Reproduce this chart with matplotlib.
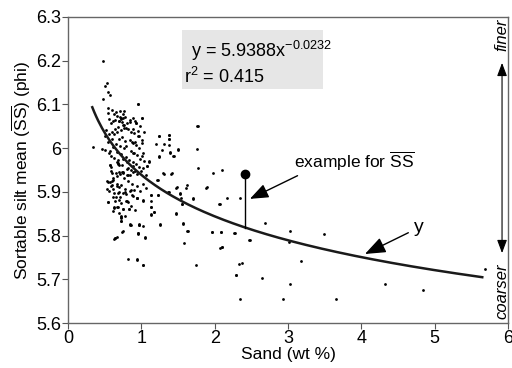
import matplotlib
matplotlib.use("Agg")
import matplotlib.pyplot as plt
import numpy as np
from matplotlib.patches import Rectangle

plt.rcParams["font.family"] = ["Liberation Sans", "DejaVu Sans"]
plt.rcParams["mathtext.fontset"] = "custom"
plt.rcParams["mathtext.rm"] = "Liberation Sans"
plt.rcParams["mathtext.it"] = "Liberation Sans:italic"

# sand (wt %) vs sortable silt mean (phi)
sand = [0.48, 0.505, 0.536, 0.55, 0.573, 0.482, 0.959, 0.55, 0.596, 0.55,
        0.345, 0.46, 0.50, 1.005, 0.93, 0.846, 0.72, 0.75, 0.78, 0.70,
        1.764, 1.237, 1.378, 1.378, 1.31, 1.505, 1.39, 1.245, 1.445, 1.755,
        1.77, 1.31, 1.41, 1.22, 1.98, 2.096, 1.88, 1.61, 1.473, 1.52,
        1.37, 1.71, 1.55, 2.073, 2.164, 2.346, 1.473, 1.128, 1.22, 1.13,
        1.128, 1.178, 1.255, 1.573, 1.628, 1.96, 2.087, 2.269, 2.473, 1.582,
        2.096, 2.073, 2.337, 1.741, 2.287, 1.018, 0.946, 0.823, 0.846, 0.968,
        1.018, 1.05, 0.955, 0.741, 0.641, 0.627, 0.723, 0.723, 0.632, 0.686,
        0.755, 0.832, 0.55, 0.61, 0.655, 0.71, 0.777, 0.868, 0.946, 1.018,
        0.537, 0.58, 0.573, 0.595, 0.673, 0.745, 0.80, 0.882, 0.973, 1.018,
        1.073, 1.11, 0.94, 1.064, 0.573, 0.582, 0.664, 0.686, 0.755, 0.80,
        0.56, 0.583, 0.617, 0.664, 0.702, 0.728, 0.746, 0.789, 0.807, 0.681,
        0.643, 0.602, 0.559, 0.522, 0.497, 0.627, 0.671, 0.716, 0.768, 0.813,
        0.857, 0.904, 0.948, 0.694, 0.741, 0.773, 0.838, 0.871, 0.925, 0.596,
        0.546, 0.652, 0.703, 0.757, 0.796, 0.852, 0.893, 0.943, 0.611, 0.574,
        0.661, 0.727, 0.784, 0.826, 0.884, 0.921, 0.978, 1.012, 0.628, 0.674,
        0.739, 0.806, 0.853, 0.917, 0.588, 0.647, 0.708, 0.762, 0.817, 0.875,
        0.936, 0.607, 0.668, 0.725, 0.772, 0.843, 0.897, 0.619, 0.684, 0.563,
        0.642, 0.716, 0.804, 0.862, 0.615, 0.693, 0.782, 0.915, 0.984, 1.024,
        1.058, 0.992, 0.963, 1.004, 0.978, 0.914, 0.887, 0.846, 0.758, 0.736,
        0.688, 0.646, 0.626, 0.744, 0.766, 0.703, 0.659,
        2.687, 3.027, 3.495, 2.482, 3.018, 3.178, 2.369, 2.65, 3.027, 4.323,
        4.845, 5.687, 2.346, 2.936, 3.65,
        0.937, 1.018, 1.13, 1.13, 1.13, 1.13, 1.177, 1.223, 1.36, 1.527,
        1.541, 1.55, 1.70, 1.473, 2.064, 0.845, 0.973, 1.255, 1.564, 1.632,
        1.96, 2.083, 2.277, 0.96, 1.05, 2.105, 0.937, 1.018, 2.291,
        0.96, 1.009, 0.927, 0.96, 1.036, 0.891, 0.973, 1.241, 1.382, 1.382,
        0.882, 0.914, 1.005, 1.196, 1.382, 1.777, 1.286, 1.505, 1.391, 1.436,
        1.245, 0.882, 1.027, 1.036, 1.109, 1.073, 0.882, 1.3, 1.414, 1.21,
        1.482, 1.618, 1.891,
        0.564, 0.582, 0.573, 0.677, 0.70, 0.596, 0.70, 0.73, 0.755, 0.814,
        0.845, 0.823, 0.527, 0.55, 0.618, 0.596, 0.673, 0.70, 0.632, 0.70,
        0.755, 0.791, 0.855, 0.891, 0.945, 0.55, 0.70, 0.786, 0.823, 0.627,
        0.664, 0.755, 0.836, 0.723, 0.723, 0.723, 0.855, 0.973, 0.745, 0.96,
        0.64, 0.664]
ss = [6.200, 6.141, 6.148, 6.129, 6.121, 6.112, 6.102, 6.091, 6.087, 6.080,
      6.003, 5.998, 5.996, 6.068, 6.058, 6.060, 6.070, 6.068, 6.072, 6.062,
      6.051, 6.028, 6.030, 6.021, 6.010, 5.997, 5.990, 5.981, 5.982, 5.999,
      5.955, 5.940, 5.941, 5.927, 5.944, 5.950, 5.910, 5.910, 5.910, 5.896,
      5.899, 5.883, 5.873, 5.872, 5.885, 5.885, 5.850, 5.893, 5.893, 5.865,
      5.848, 5.854, 5.825, 5.827, 5.810, 5.808, 5.808, 5.805, 5.790, 5.782,
      5.773, 5.771, 5.735, 5.732, 5.709, 5.732, 5.745, 5.747, 5.825, 5.825,
      5.822, 5.795, 5.804, 5.808, 5.794, 5.792, 5.833, 5.842, 5.863, 5.865,
      5.861, 5.861, 5.876, 5.888, 5.888, 5.888, 5.899, 5.893, 5.885, 5.882,
      5.907, 5.913, 5.922, 5.924, 5.937, 5.944, 5.938, 5.945, 5.957, 5.955,
      5.960, 5.970, 5.940, 5.938, 5.962, 5.948, 5.968, 5.972, 5.975, 5.968,
      6.066, 6.057, 6.061, 6.073, 6.071, 6.067, 6.053, 6.045, 6.058, 6.049,
      6.043, 6.038, 6.033, 6.042, 6.028, 6.032, 6.037, 6.041, 6.047, 6.043,
      6.038, 6.034, 6.027, 6.022, 6.026, 6.017, 6.019, 6.013, 6.008, 6.021,
      6.014, 6.009, 6.004, 6.001, 6.006, 5.993, 5.989, 5.984, 6.002, 5.994,
      5.991, 5.986, 5.979, 5.973, 5.968, 5.964, 5.976, 5.981, 5.977, 5.963,
      5.962, 5.953, 5.951, 5.947, 5.956, 5.943, 5.941, 5.931, 5.926, 5.918,
      5.914, 5.932, 5.919, 5.916, 5.906, 5.901, 5.904, 5.906, 5.898, 5.902,
      5.879, 5.874, 5.879, 5.868, 5.856, 5.851, 5.846, 5.858, 5.902, 5.918,
      5.909, 5.948, 6.001, 6.018, 6.051, 6.062, 6.069, 6.064, 6.054, 6.059,
      6.063, 6.065, 6.077, 6.079, 6.084, 6.086, 6.083,
      5.828, 5.811, 5.804, 5.790, 5.786, 5.741, 5.737, 5.704, 5.689, 5.689,
      5.675, 5.723, 5.656, 5.656, 5.654,
      5.885, 5.880, 5.893, 5.880, 5.865, 5.849, 5.853, 5.893, 5.900, 5.898,
      5.885, 5.872, 5.885, 5.851, 5.872, 5.826, 5.826, 5.826, 5.828, 5.811,
      5.809, 5.809, 5.807, 5.805, 5.796, 5.775, 5.746, 5.733, 5.709,
      6.101, 6.069, 6.058, 6.039, 6.038, 6.043, 6.028, 6.028, 6.030, 6.020,
      6.012, 6.015, 6.011, 6.009, 6.007, 6.050, 5.996, 5.996, 5.992, 5.983,
      5.980, 5.990, 5.988, 5.971, 5.969, 5.959, 5.959, 5.944, 5.944, 5.927,
      5.912, 5.916, 5.912,
      5.990, 5.982, 5.961, 5.965, 5.961, 5.944, 5.946, 5.946, 5.946, 5.939,
      5.939, 5.954, 5.926, 5.923, 5.927, 5.916, 5.913, 5.912, 5.897, 5.900,
      5.897, 5.895, 5.904, 5.890, 5.885, 5.877, 5.881, 5.880, 5.877, 5.865,
      5.866, 5.862, 5.862, 5.845, 5.840, 5.834, 5.824, 5.824, 5.810, 5.805,
      5.794, 5.796]

# power-law fit shown in the figure
fit_a = 5.9388
fit_b = -0.0232
fit_range = [0.33, 5.65]

example_x = 2.42
example_y = 5.94

fig = plt.figure(figsize=(5.12, 3.68), dpi=100)
ax = fig.add_axes([0.133, 0.122, 0.859, 0.832])

ax.scatter(sand, ss, s=4, color="black", marker="o", linewidths=0, zorder=3)

xc = np.linspace(fit_range[0], fit_range[1], 200)
ax.plot(xc, fit_a * xc ** fit_b, color="#1a1a1a", lw=1.8, zorder=4)

# example point with drop line to curve
y_fit = fit_a * example_x ** fit_b
ax.plot([example_x, example_x], [y_fit, example_y], color="black", lw=1.0, zorder=4)
ax.plot([example_x], [example_y], "o", color="black", ms=6, zorder=5)

# equation box
ax.add_patch(Rectangle((1.56, 6.135), 1.92, 0.135, facecolor="#e6e6e6",
                       edgecolor="none", zorder=1))
ax.text(1.68, 6.222, "y = 5.9388x$^{-0.0232}$", fontsize=13, va="center", zorder=2)
ax.text(1.58, 6.162, "r$^2$ = 0.415", fontsize=13, va="center", zorder=2)

ax.annotate("example for $\\overline{\\mathrm{SS}}$", xy=(2.48, 5.884), xytext=(3.9, 5.97),
            fontsize=12.5, ha="center", va="center",
            arrowprops=dict(arrowstyle="-|>,head_length=0.9,head_width=0.35",
                            color="black", lw=1.0, shrinkA=0, shrinkB=0,
                            relpos=(0.08, 0.0)))
ax.annotate("y", xy=(4.05, 5.758), xytext=(4.78, 5.818),
            fontsize=14, ha="center", va="center",
            arrowprops=dict(arrowstyle="-|>,head_length=0.9,head_width=0.35",
                            color="black", lw=1.0, shrinkA=2, shrinkB=0))

# finer / coarser arrow
ax.annotate("", xy=(5.92, 6.195), xytext=(5.92, 5.76),
            arrowprops=dict(arrowstyle="<|-|>,head_length=0.8,head_width=0.3",
                            color="black", lw=0.8, shrinkA=0, shrinkB=0))
ax.text(5.92, 6.26, "finer", rotation=90, style="italic", fontsize=12,
        ha="center", va="center")
ax.text(5.92, 5.672, "coarser", rotation=90, style="italic", fontsize=12,
        ha="center", va="center")

ax.set_xlim(0, 6)
ax.set_ylim(5.6, 6.3)
ax.set_xticks([0, 1, 2, 3, 4, 5, 6])
ax.set_yticks([5.6, 5.7, 5.8, 5.9, 6.0, 6.1, 6.2, 6.3])
ax.set_yticklabels(["5.6", "5.7", "5.8", "5.9", "6", "6.1", "6.2", "6.3"])
ax.tick_params(direction="out", length=4, width=0.8, color="#555555",
               labelsize=13, pad=1)
for sp in ax.spines.values():
    sp.set_color("#666666")
    sp.set_linewidth(1.0)

ax.set_xlabel("Sand (wt %)", fontsize=12.5, labelpad=0)
ax.set_ylabel("Sortable silt mean ($\\overline{\\mathrm{SS}}$) (phi)", fontsize=12.5, labelpad=2)

plt.savefig("out.png", dpi=100)
